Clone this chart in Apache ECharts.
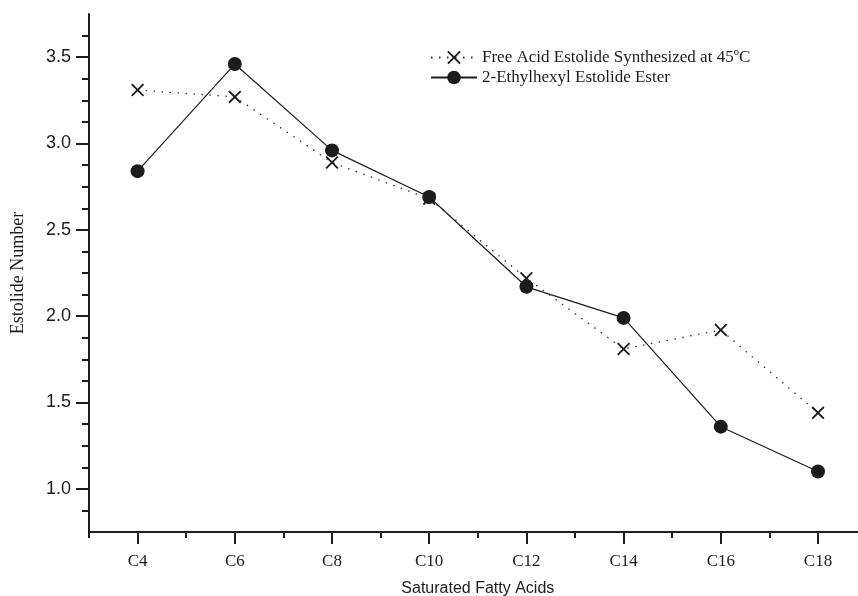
<!DOCTYPE html>
<html>
<head>
<meta charset="utf-8">
<script src="https://cdn.jsdelivr.net/npm/echarts@6/dist/echarts.min.js"></script>
<style>
html,body{margin:0;padding:0;background:#fff;}
#chart{width:858px;height:596px;}
</style>
</head>
<body>
<div id="chart"></div>
<script>
const categories = ['C4','C6','C8','C10','C12','C14','C16','C18'];
const freeAcid = [3.31, 3.27, 2.89, 2.68, 2.22, 1.81, 1.92, 1.44];
const ethylhexyl = [2.84, 3.46, 2.96, 2.69, 2.17, 1.99, 1.36, 1.10];
const yMajorTicks = [1.0, 1.5, 2.0, 2.5, 3.0, 3.5];
const yMinorTicks = [0.875, 1.125, 1.25, 1.375, 1.625, 1.75, 1.875, 2.125, 2.25, 2.375, 2.625, 2.75, 2.875, 3.125, 3.25, 3.375, 3.625];
const seriesNames = ['Free Acid Estolide Synthesized at 45ºC', '2-Ethylhexyl Estolide Ester'];
const xAxisName = 'Saturated Fatty Acids';
const yAxisName = 'Estolide Number';

const ink = '#1c1c1c';
const crossPath = 'path://M0,1L1,0L5,4L9,0L10,1L6,5L10,9L9,10L5,6L1,10L0,9L4,5Z';

const chart = echarts.init(document.getElementById('chart'), null, {renderer:'canvas'});
chart.setOption({
  backgroundColor: '#ffffff',
  animation: false,
  grid: {left: 89, top: 14, height: 518, width: 777.6, containLabel: false, outerBoundsMode: 'none'},
  legend: {
    orient: 'vertical',
    left: 425, top: 44,
    itemWidth: 46, itemHeight: 17, itemGap: 3,
    textStyle: {fontFamily: 'Liberation Serif', fontSize: 17, color: ink},
    data: seriesNames
  },
  xAxis: [{
    type: 'category', data: categories, boundaryGap: true, position: 'bottom',
    name: xAxisName, nameLocation: 'middle', nameGap: 49,
    nameTextStyle: {fontFamily: 'Liberation Sans', fontSize: 16, color: ink},
    axisLine: {show: true, lineStyle: {color: ink, width: 2}},
    axisTick: {show: true, alignWithLabel: true, length: 12, lineStyle: {color: ink, width: 2}},
    axisLabel: {margin: 21, fontFamily: 'Liberation Serif', fontSize: 17, color: ink},
    splitLine: {show: false}
  },{
    type: 'category', data: categories, boundaryGap: true, position: 'bottom',
    axisLine: {show: false},
    axisTick: {show: true, alignWithLabel: false, length: 6, lineStyle: {color: ink, width: 2}},
    axisLabel: {show: false},
    splitLine: {show: false}
  }],
  yAxis: [{
    type: 'value', min: 0.75, max: 3.75, position: 'left',
    name: yAxisName, nameLocation: 'middle', nameGap: 62,
    nameTextStyle: {fontFamily: 'Liberation Serif', fontSize: 18, color: ink},
    axisLine: {show: true, lineStyle: {color: ink, width: 2}},
    axisTick: {show: true, length: 13, customValues: yMajorTicks, lineStyle: {color: ink, width: 2}},
    axisLabel: {customValues: yMajorTicks, margin: 18, fontFamily: 'Liberation Sans', fontSize: 18, color: ink,
      formatter: v => Number(v).toFixed(1)},
    splitLine: {show: false}
  },{
    type: 'value', min: 0.75, max: 3.75, position: 'left',
    axisLine: {show: false},
    axisTick: {show: true, length: 7, customValues: yMinorTicks, lineStyle: {color: ink, width: 2}},
    axisLabel: {show: false},
    splitLine: {show: false}
  }],
  series: [{
    name: seriesNames[0], type: 'line', data: freeAcid, xAxisIndex: 0, yAxisIndex: 0,
    symbol: crossPath, symbolSize: 13,
    itemStyle: {color: ink},
    lineStyle: {color: '#333', width: 1.3, type: [1.5, 6.5]},
    z: 3
  },{
    name: seriesNames[1], type: 'line', data: ethylhexyl, xAxisIndex: 0, yAxisIndex: 0,
    symbol: 'circle', symbolSize: 14,
    itemStyle: {color: ink},
    lineStyle: {color: ink, width: 1.2, type: 'solid'},
    z: 4
  }]
});
</script>
</body>
</html>
